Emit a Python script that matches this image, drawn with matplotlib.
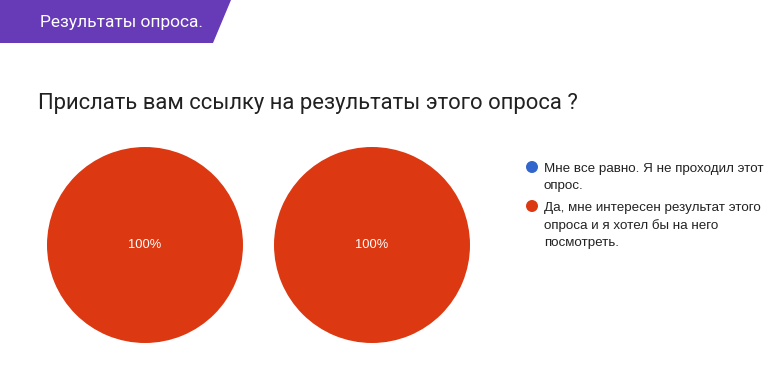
import matplotlib
matplotlib.use("Agg")
import matplotlib.pyplot as plt
from matplotlib.patches import Polygon, Ellipse

W, H = 784, 379

categories = ["Мне все равно. Я не проходил этот\nопрос.",
              "Да, мне интересен результат этого\nопроса и я хотел бы на него\nпосмотреть."]
pie1_values = [0, 1]
pie2_values = [0, 1]
colors = ["#3366cc", "#dc3912"]
header = "Результаты опроса."
title = "Прислать вам ссылку на результаты этого опроса ?"

fig = plt.figure(figsize=(W / 100, H / 100), dpi=100)
fig.patch.set_facecolor("white")

def fx(x):
    return x / W

def fy(y):
    return 1 - y / H

# header banner
banner = Polygon([(0, fy(0)), (fx(231), fy(0)), (fx(213), fy(43)), (0, fy(43))],
                 closed=True, transform=fig.transFigure, facecolor="#673ab7",
                 edgecolor="none")
fig.patches.append(banner)
fig.text(fx(40), fy(22), header, color="white", fontsize=12.5, family="Roboto",
         va="center", ha="left")

# title
fig.text(fx(38), fy(103), title, color="#212121", fontsize=15.8, family="Roboto",
         va="center", ha="left")

# pies
r = 98
for cx, vals in [(145, pie1_values), (372, pie2_values)]:
    ax = fig.add_axes([fx(cx - r), fy(245 + r), 2 * r / W, 2 * r / H])
    wedges, _ = ax.pie(vals, colors=colors, startangle=90, counterclock=False,
                       wedgeprops=dict(linewidth=0))
    ax.set_xlim(-1, 1)
    ax.set_ylim(-1, 1)
    ax.set_aspect("equal")
    ax.axis("off")
    total = sum(vals)
    for v in vals:
        if v / total >= 0.999:
            ax.text(0, 0, f"{v / total * 100:.0f}%", color="white", fontsize=9.3,
                    family="Liberation Sans", ha="center", va="center")

# legend
ys = [167, 206]
for y, lab, c in zip(ys, categories, colors):
    fig.patches.append(Ellipse((fx(532), fy(y)), width=12 / W, height=12 / H,
                               transform=fig.transFigure, facecolor=c,
                               edgecolor="none"))
    fig.text(fx(544), fy(y - 4), lab, color="#222222", fontsize=9.6,
             family="Liberation Sans", va="top", ha="left", linespacing=1.53,
             transform=fig.transFigure)

fig.savefig("out.png", dpi=100)
